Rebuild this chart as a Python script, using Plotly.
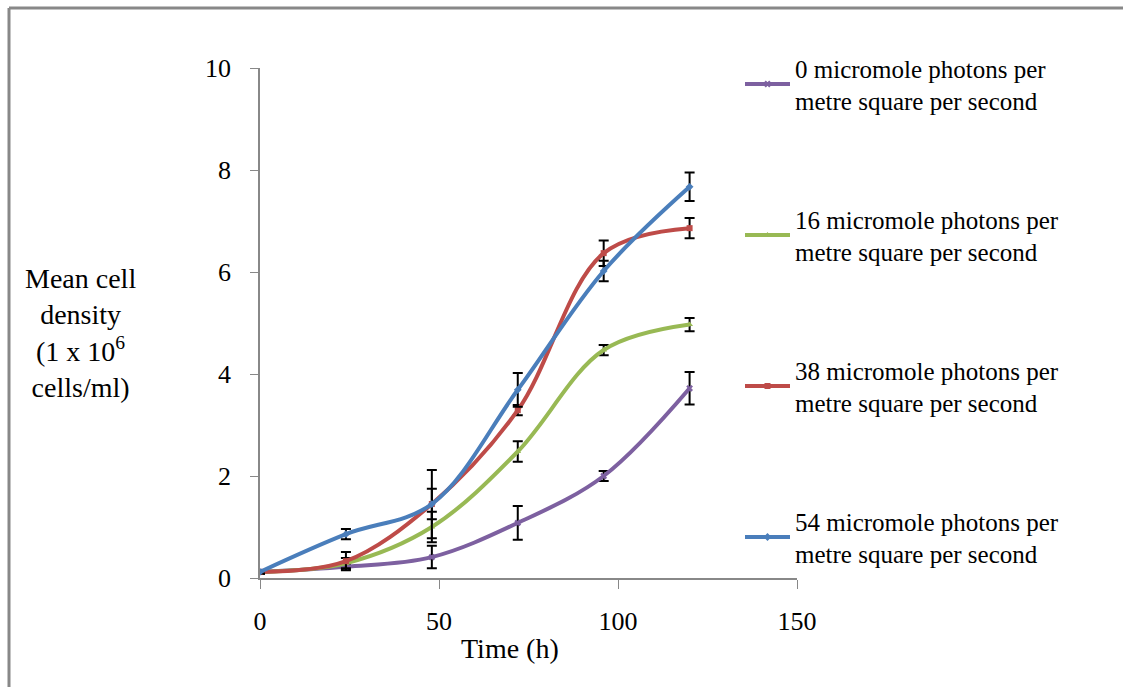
import plotly.graph_objects as go

time_h = [0, 24, 48, 72, 96, 120]

names = [
    "0 micromole photons per<br>metre square per second",
    "16 micromole photons per<br>metre square per second",
    "38 micromole photons per<br>metre square per second",
    "54 micromole photons per<br>metre square per second",
]
s0 = [0.12, 0.22, 0.41, 1.08, 2.00, 3.72]
e0 = [0.03, 0.05, 0.22, 0.33, 0.10, 0.32]
s16 = [0.12, 0.29, 1.00, 2.48, 4.47, 4.97]
e16 = [0.03, 0.10, 0.30, 0.20, 0.10, 0.13]
s38 = [0.12, 0.33, 1.45, 3.29, 6.37, 6.86]
e38 = [0.03, 0.18, 0.30, 0.10, 0.25, 0.20]
s54 = [0.12, 0.86, 1.45, 3.69, 6.02, 7.67]
e54 = [0.03, 0.10, 0.67, 0.33, 0.20, 0.28]

colors = ["#7D60A0", "#98B954", "#BE4B48", "#4A7EBB"]
symbols = ["x", "triangle-up", "square", "diamond"]
series = [s0, s16, s38, s54]
errors = [e0, e16, e38, e54]

FONT = "Liberation Serif, Times New Roman, serif"

fig = go.Figure()
for i in range(4):
    fig.add_trace(go.Scatter(
        x=time_h, y=series[i], name=names[i], mode="lines+markers",
        legendgroup=f"g{i}",
        line=dict(color=colors[i], width=4, shape="spline", smoothing=1.0),
        marker=dict(color=colors[i], size=6, symbol=symbols[i]),
        error_y=dict(type="data", array=errors[i], visible=True,
                     color="black", thickness=2, width=5),
    ))

W, H = 1123, 687
L, R, T, B = 260, 1123 - 797, 68, 687 - 578
pw, ph = W - L - R, H - T - B

def px(xp):
    return (xp - L) / pw

def py(yp):
    return (H - B - yp) / ph

fig.update_layout(
    width=W, height=H,
    margin=dict(l=L, r=R, t=T, b=B),
    paper_bgcolor="white", plot_bgcolor="white",
    font=dict(family=FONT, size=25, color="black"),
    showlegend=True,
    legend=dict(
        x=px(740), y=py(45), xanchor="left", yanchor="top",
        traceorder="grouped", tracegroupgap=83, maxheight=680,
        font=dict(family=FONT, size=25, color="black"),
        bgcolor="rgba(0,0,0,0)", itemwidth=45,
    ),
    xaxis=dict(
        range=[0, 150], tickvals=[0, 50, 100, 150], showgrid=False, zeroline=False,
        showline=True, linecolor="#888888", linewidth=1.5,
        ticks="outside", ticklen=9, tickcolor="#888888",
        ticklabelstandoff=10,
        tickfont=dict(family=FONT, size=26, color="black"),
    ),
    yaxis=dict(
        range=[0, 10], tickvals=[0, 2, 4, 6, 8, 10], showgrid=False, zeroline=False,
        showline=True, linecolor="#888888", linewidth=1.5,
        ticks="outside", ticklen=8, tickcolor="#888888",
        ticklabelstandoff=14,
        tickfont=dict(family=FONT, size=26, color="black"),
    ),
    annotations=[
        dict(text="Mean cell<br>density<br>(1 x 10<sup>6</sup><br>cells/ml)",
             xref="paper", yref="paper", x=px(80), y=py(333),
             xanchor="center", yanchor="middle", showarrow=False, align="center",
             font=dict(family=FONT, size=28, color="black")),
        dict(text="Time (h)", xref="paper", yref="paper", x=px(510), y=py(648),
             xanchor="center", yanchor="middle", showarrow=False,
             font=dict(family=FONT, size=28, color="black")),
    ],
    shapes=[
        dict(type="line", xref="paper", yref="paper",
             x0=px(9), x1=px(W + 5), y0=py(8), y1=py(8),
             line=dict(color="#888888", width=3)),
        dict(type="line", xref="paper", yref="paper",
             x0=px(9), x1=px(9), y0=py(8), y1=py(H + 5),
             line=dict(color="#888888", width=3)),
    ],
)

fig.write_html("out.html")
